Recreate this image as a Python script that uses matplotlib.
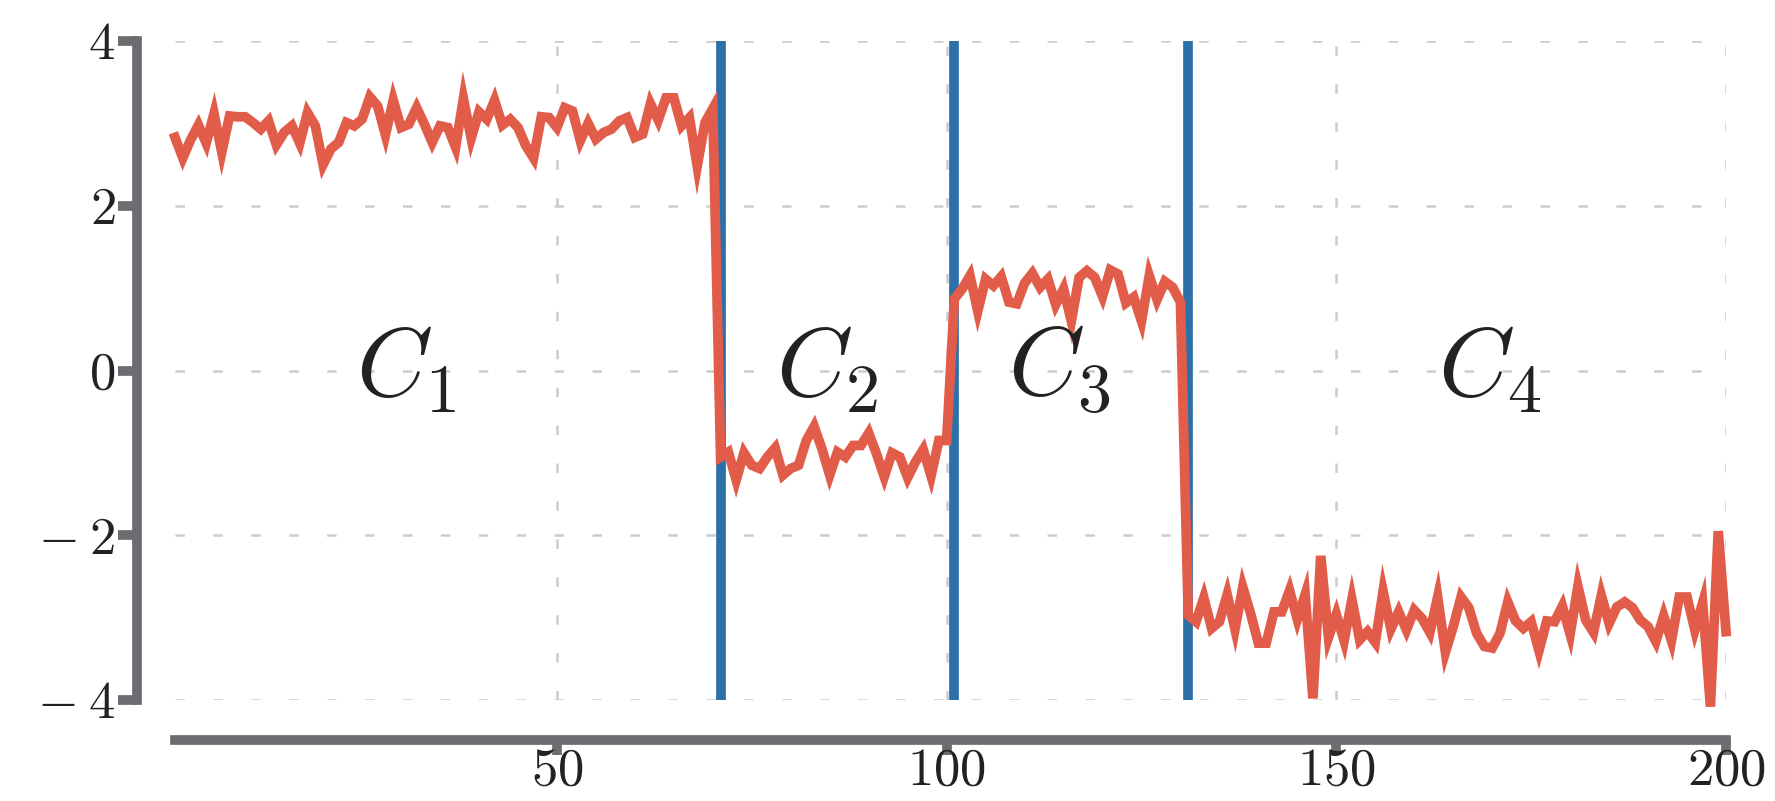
import numpy as np
import matplotlib
matplotlib.use('Agg')
from matplotlib import pyplot as plt
from matplotlib.ticker import FuncFormatter

# segment values (x = 1..200)
seg1 = [2.83, 2.58, 2.80, 2.98, 2.76, 3.12, 2.65, 3.09, 3.08, 3.08,
        3.01, 2.93, 3.03, 2.74, 2.89, 2.97, 2.76, 3.13, 2.97, 2.50,
        2.69, 2.77, 3.01, 2.97, 3.05, 3.32, 3.21, 2.86, 3.28, 2.95,
        2.99, 3.19, 2.99, 2.77, 2.97, 2.95, 2.71, 3.30, 2.82, 3.14,
        3.05, 3.28, 2.98, 3.05, 2.95, 2.73, 2.58, 3.08, 3.07, 2.95,
        3.19, 3.15, 2.79, 3.00, 2.81, 2.89, 2.93, 3.03, 3.07, 2.83,
        2.87, 3.24, 3.04, 3.31, 3.31, 2.97, 3.07, 2.48, 3.01, 3.18]
seg2 = [-1.05, -0.99, -1.33, -1.00, -1.15, -1.19, -1.05, -0.94, -1.27, -1.19,
        -1.15, -0.85, -0.68, -0.95, -1.27, -0.99, -1.05, -0.91, -0.91, -0.76,
        -1.01, -1.29, -1.00, -1.05, -1.30, -1.11, -0.96, -1.28, -0.85, -0.85]
seg3 = [0.87, 0.99, 1.15, 0.72, 1.11, 1.03, 1.14, 0.83, 0.81, 1.06,
        1.18, 1.01, 1.11, 0.80, 0.99, 0.60, 1.13, 1.21, 1.13, 0.90,
        1.22, 1.17, 0.82, 0.89, 0.60, 1.15, 0.86, 1.08, 1.01, 0.83]
seg4 = [-2.97, -3.05, -2.76, -3.13, -3.05, -2.72, -3.14, -2.63, -2.95, -3.31,
        -3.31, -2.93, -2.93, -2.67, -3.02, -2.72, -3.98, -2.25, -3.24, -2.96,
        -3.28, -2.78, -3.27, -3.17, -3.30, -2.68, -3.14, -2.93, -3.15, -2.91,
        -3.01, -3.18, -2.75, -3.42, -3.11, -2.75, -2.88, -3.19, -3.35, -3.37,
        -3.19, -2.81, -3.04, -3.13, -3.05, -3.40, -3.04, -3.05, -2.86, -3.20,
        -2.62, -3.03, -3.18, -2.73, -3.07, -2.87, -2.81, -2.88, -3.03, -3.11,
        -3.29, -2.98, -3.28, -2.75, -2.75, -3.15, -2.82, -4.08, -1.95, -3.17]

change_points = [71, 101, 131]
segment_labels = [r'$C_1$', r'$C_2$', r'$C_3$', r'$C_4$']
label_x = [30.7, 84.7, 114.5, 169.7]
x_ticks = [50, 100, 150, 200]
y_ticks = [-4, -2, 0, 2, 4]

red = '#e25c4a'
blue = '#2c70a8'
gray = '#6c6d71'

plt.rcParams.update({
    'font.family': 'serif',
    'font.serif': ['cmr10'],
    'mathtext.fontset': 'cm',
    'axes.formatter.use_mathtext': True,
    'lines.scale_dashes': False,
})


def tick_fmt(v, pos):
    # minus drawn like a binary operator, as in the original
    if v < 0:
        return r'$-\:%d$' % abs(v)
    return r'$%d$' % v


values = seg1 + seg2 + seg3 + seg4
x = np.arange(1, len(values) + 1)

fig = plt.figure(figsize=(17.75, 8.01), dpi=100)
ax = fig.add_axes([0.0986, 0.1261, 0.8738, 0.8227])

ax.grid(True, color='#cccccc', linestyle=(0, (6.8, 20.5)), linewidth=1.8)
ax.set_axisbelow(True)

for cp in change_points:
    ax.axvline(cp, color=blue, lw=7, zorder=2)
ax.plot(x, values, color=red, lw=7, solid_joinstyle='miter', zorder=3,
        clip_on=False)

for lx, lab in zip(label_x, segment_labels):
    ax.text(lx, 0, lab, ha='center', va='center', fontsize=70,
            color='#222222', zorder=4)

ax.set_xlim(1, 200)
ax.set_ylim(-4, 4)
ax.set_xticks(x_ticks)
ax.set_yticks(y_ticks)
ax.xaxis.set_major_formatter(FuncFormatter(tick_fmt))
ax.yaxis.set_major_formatter(FuncFormatter(tick_fmt))

for line in ax.get_xgridlines() + ax.get_ygridlines():
    line.set_clip_on(False)

for side in ['top', 'right']:
    ax.spines[side].set_visible(False)
ax.spines['left'].set_position(('outward', 27.5))
ax.spines['bottom'].set_position(('outward', 29))
for side in ['left', 'bottom']:
    ax.spines[side].set_linewidth(7)
    ax.spines[side].set_color(gray)

ax.tick_params(axis='both', direction='out', width=7,
               color=gray, labelcolor='#222222', labelsize=38)
ax.tick_params(axis='x', length=10.5, pad=-5)
ax.tick_params(axis='y', length=13.5, pad=2)

fig.savefig('out.png', dpi=100)
